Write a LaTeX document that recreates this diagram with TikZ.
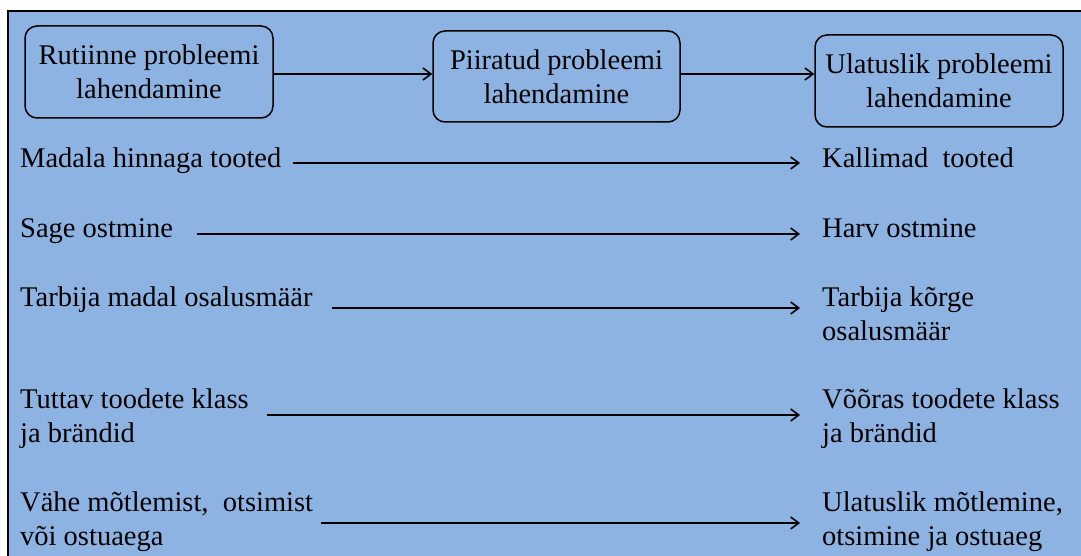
\documentclass[tikz,border=0pt]{standalone}
\usepackage{fontspec}
\setmainfont{Liberation Serif}
\usetikzlibrary{arrows.meta}
\tikzset{>={Straight Barb[length=8pt,width=12pt]}}
\definecolor{bgblue}{RGB}{141,179,226}
\tikzstyle{box}=[draw, rounded corners=12pt, line width=1.5pt, align=center, inner sep=0pt, font=\fontsize{28.5}{34}\selectfont]
\tikzstyle{lbl}=[align=left, inner sep=0pt, anchor=base west, font=\fontsize{28.5}{34}\selectfont]
\tikzstyle{arr}=[->, line width=1.6pt]

\begin{document}
\begin{tikzpicture}[x=1pt, y=-1pt]
	%\draw [help lines] (0,0) grid (1081,556);
	\useasboundingbox (0,0) rectangle (1081,556);
	\fill[bgblue] (8,11) rectangle (1081,556);
	\draw[line width=2pt] (8,556) -- (8,11) -- (1081,11);

	% top row
	\node[box, minimum width=248pt, minimum height=92pt] (rutiinne) at (149,72) {Rutiinne probleemi\\lahendamine};
	\node[box, minimum width=247pt, minimum height=91pt] (piiratud) at (556.5,76.5) {Piiratud probleemi\\lahendamine};
	\node[box, minimum width=248pt, minimum height=92pt] (ulatuslik) at (939,81) {Ulatuslik probleemi\\lahendamine};

	\draw[arr] ([yshift=-2pt]rutiinne.east) -- ([yshift=-2pt]rutiinne.east -| piiratud.west);
	\draw[arr] ([yshift=2.5pt]piiratud.east) -- ([yshift=2.5pt]piiratud.east -| ulatuslik.west);

	% left column (base = last line)
	\node[lbl] (L1) at (20,168) {Madala hinnaga tooted};
	\node[lbl] (L2) at (20,237) {Sage ostmine};
	\node[lbl] (L3) at (20,306) {Tarbija madal osalusmäär};
	\node[lbl] (L4) at (20,442) {Tuttav toodete klass\\ja brändid};
	\node[lbl] (L5) at (20,545) {Vähe mõtlemist,~ otsimist\\või ostuaega};

	% right column
	\node[lbl] (R1) at (822,168) {Kallimad~ tooted};
	\node[lbl] (R2) at (822,237) {Harv ostmine};
	\node[lbl] (R3) at (822,340) {Tarbija kõrge\\osalusmäär};
	\node[lbl] (R4) at (822,442) {Võõras toodete klass\\ja brändid};
	\node[lbl] (R5) at (822,545) {Ulatuslik mõtlemine,\\otsimine ja ostuaeg};

	\draw[arr] ([shift={(11,-5)}]L1.base east) -- ([shift={(-22,-5)}]R1.base west);
	\draw[arr] ([shift={(24,-3)}]L2.base east) -- ([shift={(-22,-3)}]R2.base west);
	\draw[arr] ([shift={(19,2)}]L3.base east) -- ([shift={(-22,-32)}]R3.base west);
	\draw[arr] ([shift={(18,-27)}]L4.base east) -- ([shift={(-22,-27)}]R4.base west);
	\draw[arr] ([shift={(8,-22)}]L5.base east) -- ([shift={(-22,-22)}]R5.base west);
\end{tikzpicture}
\end{document}
